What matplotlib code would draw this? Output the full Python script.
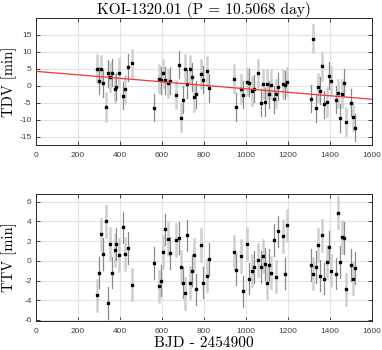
import matplotlib.pyplot as plt
import numpy as np

# transit epochs (BJD - 2454900)
t = [290, 302, 311, 322, 333, 343, 354, 363, 375, 384, 395, 417, 427, 438, 459,
     563, 587, 597, 606, 617, 628, 638, 670, 681, 690, 700, 711, 722, 733, 743,
     754, 763, 786, 795, 817, 827,
     943, 954, 975, 986, 1006, 1017, 1029, 1038, 1059, 1070, 1081, 1091, 1101,
     1111, 1122, 1133, 1143, 1154, 1176, 1186, 1197,
     1309, 1320, 1332, 1343, 1354, 1363, 1374, 1385, 1397, 1406, 1427, 1438,
     1447, 1458, 1468, 1479, 1501, 1511, 1522]

tdv = [5.0, 1.4, 4.8, 0.7, -6.3, 3.6, 2.5, 3.8, -0.9, -0.3, 3.8, -2.9, -1.1, 5.4, 6.5,
       -6.5, 2.0, 1.6, 3.6, 1.6, 0.7, 1.4, -2.7, 6.1, -9.4, -4.1, 5.0, 0.5, 4.8, 2.5,
       -3.4, -2.5, 3.4, 1.8, 4.3, -0.7,
       2.0, -6.3, -1.0, -2.7, 1.2, 0.9, -1.6, -0.9, 3.6, -5.0, 0.5, -4.8, 0.5,
       -2.6, 0.3, -4.0, -2.4, -0.3, 0.5, 0.2, 1.2,
       -3.8, 13.8, -6.7, -0.5, -1.5, 5.7, -5.5, -4.8, 2.9, 1.4, -4.1, -2.2,
       -9.5, -2.4, 0.9, -10.6, -5.0, -9.1, -12.4]

ttv = [-3.5, -1.2, 2.7, 0.7, 4.0, -4.3, 1.7, -1.2, 1.1, 1.7, 0.6, 3.4, 0.7, 1.3, -2.4,
       -0.2, -2.6, -2.0, 0.9, 3.2, 2.2, 0.8, 2.1, 2.3, -0.6, -2.2, -3.3, 2.6, -2.2, -1.0,
       0.6, -2.9, 1.6, -2.2, -1.5, 0.2,
       0.9, -0.9, 0.5, -3.1, 1.7, -1.8, -1.0, -0.6, 0.1, -0.6, 0.5, -0.3, -2.2,
       -0.4, -1.2, 2.1, -1.6, 3.0, 2.5, -1.3, 3.6,
       -0.4, -1.3, -0.6, 1.6, -1.5, 2.6, -1.8, -0.1, 1.4, -1.0, -1.3, 4.9,
       -0.1, 2.4, 2.3, -2.9, -0.4, -1.8, -0.7]

tdv_err = 4.0
ttv_err = 1.6
trend = [-0.005125, 4.2]  # slope, intercept of TDV trend

t = np.array(t)
tdv = np.array(tdv)
ttv = np.array(ttv)

plt.rcParams['axes.unicode_minus'] = False
plt.rcParams['font.family'] = ['Liberation Sans', 'DejaVu Sans']
serif = 'cmr10'
frame_col = '#262626'

fig = plt.figure(figsize=(3.82, 3.5), dpi=100)
ax1 = fig.add_axes([0.0935, 0.586, 0.880, 0.363])
ax2 = fig.add_axes([0.0935, 0.083, 0.880, 0.363])


def draw(ax, y, err):
    for i in range(len(t)):
        if i % 2 == 0:
            ax.plot([t[i], t[i]], [y[i] - err, y[i] + err], color='#cfcfcf', lw=1.8, zorder=2)
        else:
            ax.plot([t[i], t[i]], [y[i] - err, y[i] + err], color='#8a8a8a', lw=0.9, zorder=2)
    ax.plot(t, y, 's', color='black', ms=1.6, zorder=3)
    ax.set_xlim(0, 1600)
    ax.set_xticks(np.arange(0, 1601, 200))
    ax.grid(True, color='#e3e3e3', lw=0.8)
    ax.set_axisbelow(True)
    ax.tick_params(direction='in', top=True, right=True, labelsize=6,
                   colors=frame_col, labelcolor='#404040', length=3, width=0.6)
    ax.tick_params(axis='x', pad=5)
    ax.tick_params(axis='y', pad=3)
    for s in ax.spines.values():
        s.set_color(frame_col)
        s.set_linewidth(0.7)
    ax.yaxis.set_label_coords(-0.057, 0.5)


draw(ax1, tdv, tdv_err)
xx = np.array([0, 1600])
ax1.plot(xx, trend[0] * xx + trend[1], color='#ff3030', lw=0.9, zorder=4)
ax1.set_ylim(-17.4, 19.9)
ax1.set_yticks(np.arange(-15, 16, 5))
ax1.set_ylabel('TDV [min]', fontsize=10.5, family=serif)
ax1.set_title('KOI-1320.01 (P = 10.5068 day)', fontsize=11, family=serif, pad=3)

draw(ax2, ttv, ttv_err)
ax2.set_ylim(-6.1, 6.8)
ax2.set_yticks(np.arange(-6, 7, 2))
ax2.set_ylabel('TTV [min]', fontsize=10.5, family=serif)
ax2.set_xlabel('BJD - 2454900', fontsize=11, family=serif, labelpad=1)

fig.savefig('out.png', dpi=100)
